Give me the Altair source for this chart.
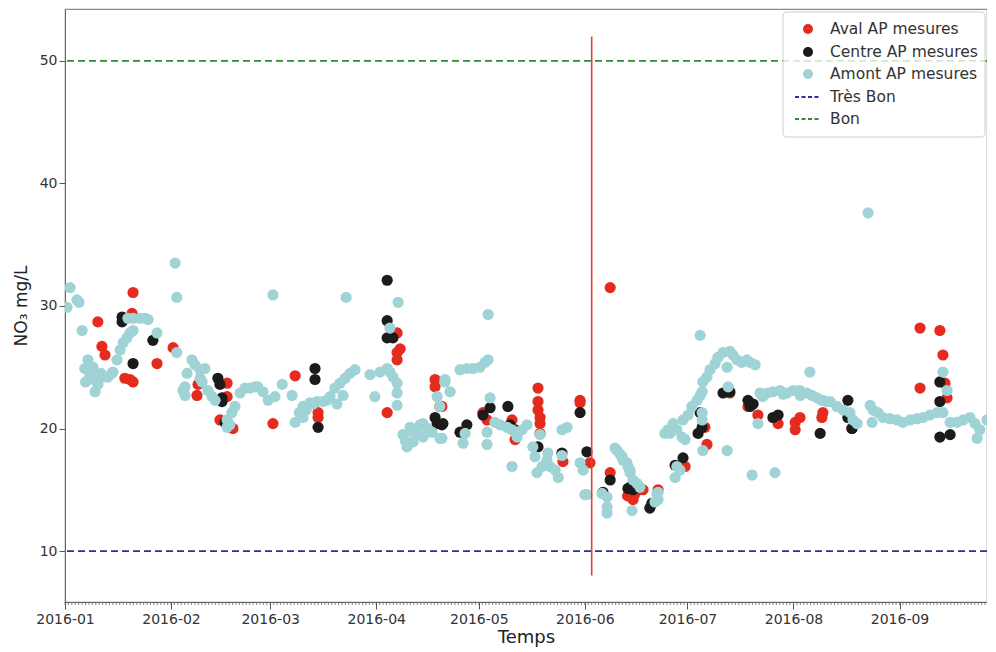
import altair as alt
import pandas as pd

# ---- data (day offset from 2016-01-01, NO3 mg/L) ----
aval_pts = [
    (19.9, 31.1), (9.6, 28.7), (10.8, 26.7), (11.7, 26.0), (17.5, 24.1), (19.0, 24.0), (19.9, 23.8),
    (26.9, 25.3), (31.6, 26.6), (38.9, 23.6), (38.6, 22.7), (47.4, 23.7), (47.4, 22.6), (45.3, 20.7),
    (49.1, 20.0), (19.6, 29.4), (60.8, 20.4), (67.3, 24.3), (74.0, 20.9), (74.0, 21.3), (94.2, 21.3),
    (97.1, 26.2), (97.1, 25.6), (97.1, 27.8), (98.0, 26.5), (108.2, 24.0), (108.2, 23.4), (109.6, 21.8),
    (110.2, 21.8), (138.3, 23.3), (138.3, 22.2), (138.3, 21.5), (138.9, 20.9), (138.9, 20.4),
    (138.9, 19.6), (131.6, 19.1), (130.7, 20.7), (123.4, 20.7), (150.6, 22.3), (150.6, 22.1),
    (145.6, 17.3), (153.5, 17.2), (159.4, 31.5), (159.4, 16.4), (166.1, 14.2), (164.5, 14.5),
    (122.2, 21.3), (166.5, 14.6), (168.0, 15.0), (169.0, 15.0), (173.4, 15.0), (181.3, 16.9),
    (187.7, 18.7), (187.1, 20.1), (194.4, 22.9), (199.7, 21.8), (202.6, 21.1), (208.5, 20.4),
    (213.5, 20.5), (213.5, 19.9), (214.9, 20.9), (221.3, 20.9), (221.6, 21.3), (230.1, 20.0),
    (250.0, 28.2), (255.8, 28.0), (256.7, 26.0), (250.0, 23.3), (257.3, 23.7), (257.9, 22.5),
]
centre_pts = [
    (16.7, 29.1), (16.7, 28.7), (25.7, 27.2), (19.9, 25.3), (44.7, 24.1), (45.3, 23.6), (45.9, 22.5),
    (45.9, 22.2), (46.8, 20.5), (94.2, 32.1), (94.2, 28.8), (94.2, 27.4), (95.9, 27.4), (73.1, 24.9),
    (73.1, 24.0), (74.0, 20.1), (108.2, 20.9), (108.8, 20.4), (110.2, 20.3), (110.5, 20.4),
    (117.5, 20.3), (115.5, 19.7), (124.3, 21.7), (122.2, 21.1), (129.5, 21.8), (130.1, 20.3),
    (131.6, 19.9), (138.3, 18.5), (145.3, 18.0), (150.6, 21.3), (152.6, 18.1), (159.4, 15.8),
    (157.3, 14.8), (164.6, 15.1), (166.1, 15.0), (165.2, 15.2), (171.0, 13.5), (171.6, 13.9),
    (178.4, 17.0), (180.7, 17.6), (185.7, 21.3), (185.1, 19.6), (186.3, 20.1), (192.4, 22.9),
    (194.4, 23.0), (199.7, 22.3), (200.3, 21.8), (201.2, 22.0), (207.0, 20.9), (208.5, 21.1),
    (220.8, 19.6), (228.9, 22.3), (228.9, 20.9), (230.1, 20.0), (255.8, 23.8), (255.8, 22.2),
    (255.8, 19.3), (258.8, 19.5),
]
amont_pts = [
    (0.6, 29.9), (1.5, 31.5), (3.5, 30.5), (4.1, 30.3), (5.0, 28.0), (5.8, 24.9), (6.7, 25.6),
    (7.3, 24.4), (8.2, 25.0), (9.6, 24.2), (9.6, 23.6), (11.1, 24.2), (12.6, 24.2), (13.7, 24.5),
    (14.0, 24.6), (15.2, 25.6), (16.1, 26.4), (17.0, 27.0), (18.1, 27.4), (19.0, 27.8), (19.9, 28.0),
    (18.4, 29.0), (19.9, 29.0), (21.9, 29.0), (23.4, 29.0), (24.3, 28.9), (26.9, 27.8), (32.2, 33.5),
    (32.7, 30.7), (32.7, 26.2), (37.1, 25.6), (38.0, 25.2), (39.5, 24.8), (40.9, 24.9), (35.7, 24.5),
    (35.1, 23.4), (34.5, 23.1), (35.1, 22.7), (39.5, 24.1), (40.1, 23.8), (41.8, 23.1), (43.0, 22.6),
    (43.9, 22.3), (47.4, 20.7), (48.2, 20.3), (47.4, 20.1), (48.8, 21.3), (49.7, 21.8), (51.2, 22.9),
    (52.6, 23.3), (54.1, 23.3), (55.6, 23.4), (56.4, 23.4), (6.0, 23.8), (7.0, 24.0), (8.8, 23.0),
    (10.5, 24.5), (57.9, 23.0), (59.4, 22.3), (61.4, 22.6), (60.8, 30.9), (63.5, 23.6), (66.4, 22.7),
    (67.3, 20.5), (69.6, 20.9), (69.6, 21.8), (71.6, 22.1), (73.7, 22.2), (75.4, 22.2), (77.5, 22.6),
    (78.9, 23.3), (80.4, 23.7), (81.9, 24.1), (82.2, 30.7), (81.3, 22.7), (83.3, 24.5), (84.8, 24.8),
    (68.5, 21.3), (70.5, 21.5), (72.5, 22.0), (76.5, 22.3), (79.5, 22.0), (89.2, 24.4), (90.6, 22.6),
    (92.1, 24.6), (94.2, 24.9), (95.0, 24.6), (95.9, 24.2), (97.1, 23.7), (97.1, 22.9), (97.1, 21.9),
    (95.0, 28.2), (97.4, 30.3), (98.8, 19.5), (100.9, 20.1), (102.3, 19.7), (103.8, 20.3),
    (104.7, 20.4), (100.0, 18.5), (101.8, 18.9), (104.7, 19.3), (107.3, 19.7), (108.8, 22.6),
    (109.6, 21.8), (111.1, 23.8), (109.6, 19.2), (99.5, 19.0), (101.0, 19.8), (103.0, 19.6),
    (106.0, 20.0), (111.1, 24.0), (112.6, 23.0), (110.2, 19.2), (115.5, 24.8), (117.5, 24.9),
    (119.3, 24.9), (121.3, 25.0), (122.8, 25.4), (123.7, 25.6), (123.7, 29.3), (124.3, 22.5),
    (123.4, 19.7), (123.4, 18.7), (117.0, 19.6), (116.4, 18.8), (125.7, 20.5), (127.2, 20.3),
    (129.2, 20.1), (130.7, 19.9), (130.7, 16.9), (131.6, 19.7), (133.6, 19.9), (135.1, 20.3),
    (132.2, 19.3), (136.8, 18.5), (137.4, 17.7), (138.0, 16.4), (139.5, 16.9), (140.9, 17.4),
    (141.8, 16.9), (143.3, 16.6), (144.2, 16.0), (138.9, 19.5), (145.3, 19.9), (146.8, 20.1),
    (141.2, 18.0), (145.3, 17.8), (150.6, 17.2), (151.5, 16.6), (152.0, 14.6), (157.0, 14.7),
    (158.5, 14.4), (158.5, 13.6), (160.8, 18.4), (161.4, 18.2), (162.3, 17.9), (162.9, 17.7),
    (163.2, 17.4), (164.3, 17.2), (164.6, 16.9), (165.2, 16.6), (165.2, 16.4), (166.1, 15.8),
    (167.3, 15.5), (168.1, 15.2), (165.8, 13.3), (158.5, 13.1), (152.6, 14.6), (173.1, 14.7),
    (173.4, 14.2), (172.5, 14.0), (173.4, 14.8), (175.4, 19.6), (178.9, 16.9), (179.8, 16.6),
    (178.4, 16.0), (176.3, 19.9), (176.9, 19.6), (177.8, 20.4), (178.9, 19.9), (180.4, 19.3),
    (181.3, 19.1), (180.7, 20.7), (182.2, 21.1), (183.3, 21.8), (184.8, 22.3), (185.7, 22.7),
    (186.3, 23.0), (186.5, 23.8), (187.7, 24.2), (188.6, 24.8), (190.1, 25.3), (190.9, 25.8),
    (192.4, 26.2), (194.4, 26.3), (195.3, 26.0), (196.5, 25.6), (197.9, 25.4), (199.4, 25.6),
    (200.3, 25.4), (201.8, 25.2), (193.6, 25.0), (185.7, 27.6), (193.9, 23.4), (186.3, 21.3),
    (186.3, 20.7), (186.5, 18.2), (193.6, 18.2), (200.9, 16.2), (207.6, 16.4), (202.6, 20.4),
    (217.8, 24.6), (203.2, 22.9), (205.3, 22.9), (207.0, 23.0), (209.1, 23.1), (211.1, 22.9),
    (212.9, 23.1), (214.9, 23.1), (216.9, 22.9), (218.4, 22.7), (219.9, 22.5), (221.3, 22.3),
    (222.8, 22.2), (204.0, 22.6), (210.0, 22.8), (215.0, 22.7), (234.8, 37.6), (221.6, 22.3),
    (223.7, 22.2), (225.7, 21.8), (227.5, 21.5), (229.5, 21.3), (230.4, 20.7), (231.6, 20.4),
    (235.4, 21.9), (236.3, 21.5), (237.7, 21.3), (239.2, 20.9), (236.0, 20.5), (241.2, 20.8),
    (243.3, 20.7), (245.0, 20.5), (247.1, 20.7), (249.1, 20.8), (250.9, 20.9), (252.9, 21.1),
    (255.0, 21.3), (256.7, 21.3), (256.7, 24.6), (257.9, 23.1), (258.8, 20.5), (260.8, 20.5),
    (262.6, 20.7), (264.6, 20.9), (266.1, 20.4), (267.5, 19.9), (266.7, 19.2), (269.6, 20.7),
    (271.3, 20.9),
]
series_names = ["Aval AP mesures", "Centre AP mesures", "Amont AP mesures"]
series_colors = ["#e42b1d", "#1b1b1b", "#9fd3d6"]
threshold_names = ["Très Bon", "Bon"]
threshold_values = [10, 50]
threshold_colors = ["#2d2d9c", "#2e8b2e"]
event_date = "2016-06-03"
event_range = [8, 52]
month_ticks = [1, 2, 3, 4, 5, 6, 7, 8, 9]
y_ticks = [10, 20, 30, 40, 50]
n_days = 270

W, H = 922, 593
start = pd.Timestamp("2016-01-01")
FONT = "DejaVu Sans"


def frame(pts, name):
    days = [p[0] for p in pts]
    vals = [p[1] for p in pts]
    return pd.DataFrame({"date": start + pd.to_timedelta(days, unit="D"),
                         "val": vals, "serie": name})


pts_df = pd.concat([frame(aval_pts, series_names[0]),
                    frame(centre_pts, series_names[1]),
                    frame(amont_pts, series_names[2])], ignore_index=True)

color_scale = alt.Scale(domain=series_names + threshold_names,
                        range=series_colors + threshold_colors)

x_scale = alt.Scale(domain=[alt.DateTime(year=2016, month=1, date=1),
                            alt.DateTime(year=2016, month=9, date=26, hours=14)])
x_enc = alt.X("date:T", scale=x_scale,
              axis=alt.Axis(format="%Y-%m", title="Temps",
                            values=[alt.DateTime(year=2016, month=m, date=1) for m in month_ticks],
                            grid=False, tickSize=7, labelPadding=3, titlePadding=2,
                            labelFlush=False, labelFontSize=14, titleFontSize=18))
y_scale = alt.Scale(domain=[5.84, 54.24], nice=False, zero=False)

points = alt.Chart(pts_df).mark_circle(size=125, opacity=1, clip=True).encode(
    x=x_enc,
    y=alt.Y("val:Q", scale=y_scale,
            axis=alt.Axis(values=y_ticks, title="NO₃ mg/L", grid=False, tickSize=6,
                          labelFontSize=14, titleFontSize=17, titlePadding=9)),
    color=alt.Color("serie:N", scale=color_scale, legend=None),
)

thr_df = pd.DataFrame({"val": threshold_values, "serie": threshold_names})
thresholds = alt.Chart(thr_df).mark_rule(strokeDash=[7, 4], strokeWidth=1.8).encode(
    y=alt.Y("val:Q", scale=y_scale),
    color=alt.Color("serie:N", scale=color_scale, legend=None),
)

ev_df = pd.DataFrame({"date": [pd.Timestamp(event_date)], "y1": [event_range[0]], "y2": [event_range[1]]})
event = alt.Chart(ev_df).mark_rule(color="#e8402f", strokeWidth=1.6).encode(
    x=alt.X("date:T", scale=x_scale), y=alt.Y("y1:Q", scale=y_scale), y2="y2:Q")

minor_df = pd.DataFrame({"date": start + pd.to_timedelta(list(range(n_days)), unit="D")})
minor = alt.Chart(minor_df).mark_rule(color="#555", strokeWidth=0.7).encode(
    x=alt.X("date:T", scale=x_scale), y=alt.value(H), y2=alt.value(H + 3))

# legend (drawn manually: mixes circles and dashed lines)
LX0, LX1, LY0, LY1 = 718, 920, 3, 128
legend_layers = [
    alt.Chart(pd.DataFrame({"a": [0]})).mark_rect(
        fill="white", fillOpacity=0.8, stroke="#cccccc", strokeWidth=1, cornerRadius=4
    ).encode(x=alt.value(LX0), x2=alt.value(LX1), y=alt.value(LY0), y2=alt.value(LY1))
]
row_y = [20, 43, 65, 88, 110]
labels = series_names + threshold_names
colors = series_colors + threshold_colors
for i, (lab, col) in enumerate(zip(labels, colors)):
    yy = row_y[i]
    one = pd.DataFrame({"a": [0]})
    if i < 3:
        legend_layers.append(alt.Chart(one).mark_circle(size=100, color=col, opacity=1).encode(
            x=alt.value(LX0 + 25), y=alt.value(yy)))
    else:
        legend_layers.append(alt.Chart(one).mark_rule(color=col, strokeDash=[4, 2.5], strokeWidth=1.8).encode(
            x=alt.value(LX0 + 12), x2=alt.value(LX0 + 37), y=alt.value(yy)))
    legend_layers.append(alt.Chart(one).mark_text(
        align="left", baseline="middle", font=FONT, fontSize=15.5, color="#333"
    ).encode(x=alt.value(LX0 + 47), y=alt.value(yy), text=alt.value(lab)))

chart = alt.layer(thresholds, minor, points, event, *legend_layers).properties(
    width=W, height=H,
    autosize=alt.AutoSizeParams(type="none"),
    padding={"left": 57, "top": 1, "right": 0, "bottom": 46},
).configure_view(stroke="#8a8a8a", strokeWidth=1.2).configure_axis(
    labelFont=FONT, titleFont=FONT, labelColor="#333", titleColor="#222",
    titleFontWeight="normal", domainColor="#666", tickColor="#555",
)

chart.save("out.html", embed_options={"renderer": "svg", "actions": False})
